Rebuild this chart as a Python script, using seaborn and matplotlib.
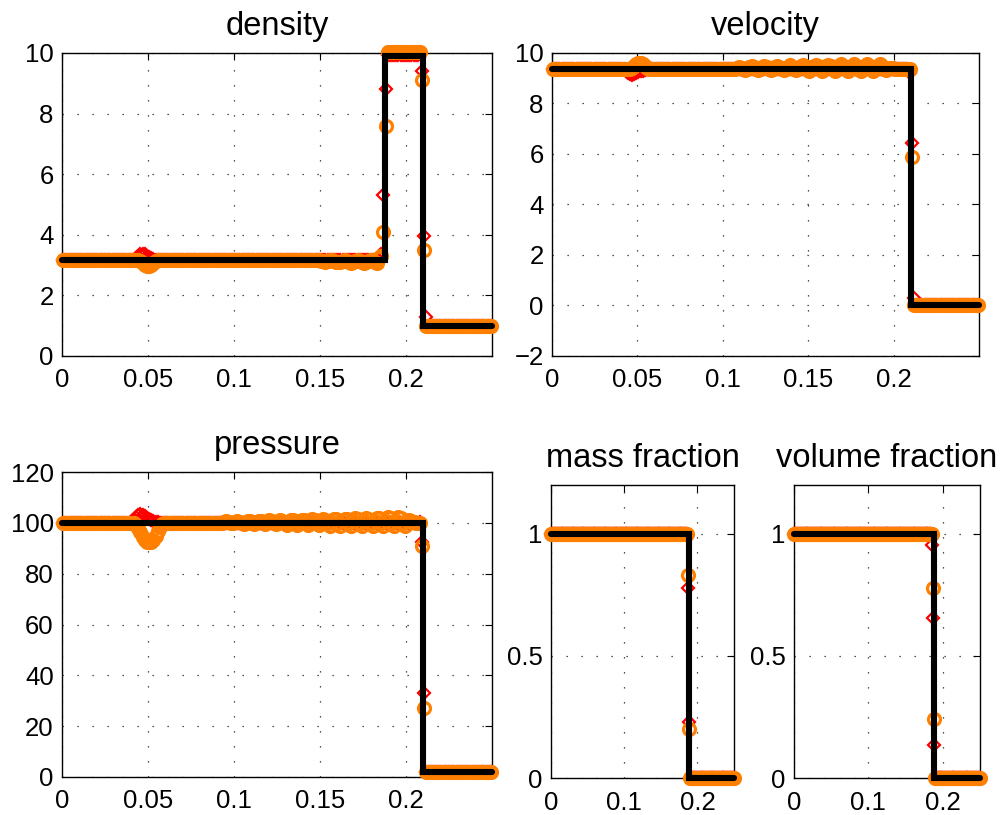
import numpy as np
import pandas as pd
import matplotlib
matplotlib.use("Agg")
import matplotlib.pyplot as plt
import seaborn as sns

# ---------------------------------------------------------------------------
# 1-D two-material shock tube at the output time: two numerical solutions
# (scheme A = red diamonds, scheme B = orange circles) on a 200-cell mesh,
# compared with the exact solution (black step profile).
# ---------------------------------------------------------------------------
N_CELLS = 200
X_LEN = 0.25
x_cells = (np.arange(N_CELLS) + 0.5) * X_LEN / N_CELLS


def runs(*parts):
    """Assemble a cell profile from (value, count) runs and explicit value lists."""
    out = []
    for p in parts:
        if isinstance(p, tuple):
            out.extend([p[0]] * p[1])
        else:
            out.extend(p)
    return np.asarray(out, dtype=float)


# ---- density -------------------------------------------------------------
rho_a_bump = [3.22, 3.30, 3.36, 3.38, 3.35, 3.30, 3.26, 3.22, 3.20, 3.18]
rho_a_contact = [3.38, 5.30, 8.80]
rho_a_shock = [9.40, 3.95, 1.30]
rho_a = runs((3.17, 34), rho_a_bump, (3.17, 104), rho_a_contact,
             (9.95, 15), [10.0], rho_a_shock, (1.0, 30))

rho_b_dip = [3.12, 3.06, 3.00, 2.97, 2.97, 3.00, 3.06, 3.12]
rho_b_wiggle = [3.17, 3.15, 3.12, 3.10, 3.12, 3.16, 3.18, 3.15, 3.11, 3.09,
                3.11, 3.15, 3.18, 3.15, 3.10, 3.08, 3.10, 3.14, 3.18, 3.15,
                3.10, 3.07, 3.09, 3.13, 3.17, 3.14, 3.09, 3.07]
rho_b_contact = [3.25, 3.30, 4.10, 7.60]
rho_b_shock = [9.10, 3.50]
rho_b = runs((3.17, 36), rho_b_dip, (3.17, 75), rho_b_wiggle, rho_b_contact,
             (10.03, 16), rho_b_shock, (1.0, 31))

# ---- velocity ------------------------------------------------------------
u_a_dip = [9.30, 9.22, 9.15, 9.12, 9.15, 9.20, 9.25, 9.28, 9.30, 9.32]
u_a_shock = [9.20, 6.45, 0.30]
u_a = runs((9.35, 34), u_a_dip, (9.35, 123), u_a_shock, (0.0, 30))

u_b_bump = [9.40, 9.48, 9.55, 9.60, 9.60, 9.55, 9.48, 9.40]
u_b_wiggle = [9.36, 9.42, 9.46, 9.42, 9.36, 9.33, 9.38, 9.44, 9.48, 9.43,
              9.36, 9.32, 9.38, 9.45, 9.49, 9.44, 9.36, 9.32, 9.38, 9.46,
              9.50, 9.45, 9.36, 9.31, 9.38, 9.46, 9.51, 9.46, 9.36, 9.31,
              9.39, 9.47, 9.52, 9.47, 9.36, 9.30, 9.39, 9.48, 9.53, 9.47,
              9.36, 9.30, 9.39, 9.48, 9.54, 9.48, 9.36, 9.29, 9.40, 9.49,
              9.55, 9.49, 9.36, 9.29, 9.40, 9.50, 9.55, 9.49, 9.36, 9.29,
              9.40, 9.50, 9.56, 9.50, 9.36, 9.30, 9.40, 9.50, 9.55, 9.48,
              9.38, 9.33, 9.36, 9.40, 9.42, 9.38, 9.36, 9.35, 9.35, 9.35,
              9.36, 9.35]
u_b_shock = [9.35, 5.90]
u_b = runs((9.35, 37), u_b_bump, (9.35, 40), u_b_wiggle, u_b_shock, (0.0, 31))

# ---- pressure ------------------------------------------------------------
p_a_bump = [100.8, 101.6, 102.4, 103.0, 103.4, 103.2, 102.6, 102.0, 101.5,
            101.1, 100.8, 100.5, 100.3]
p_a_shock = [100.5, 92.6, 33.0]
p_a = runs((100.0, 32), p_a_bump, (100.0, 121), p_a_shock, (2.0, 31))

p_b_dip = [99.0, 97.8, 96.2, 94.6, 93.4, 92.6, 92.3, 92.6, 93.4, 94.8,
           96.6, 98.4, 99.5]
p_b_wiggle = [100.3, 100.6, 100.4, 100.0, 99.8, 100.2, 100.7, 100.5, 100.0, 99.7,
              100.2, 100.8, 100.6, 100.0, 99.6, 100.2, 100.9, 100.7, 100.0, 99.5,
              100.3, 101.0, 100.8, 100.0, 99.4,
              100.3, 101.1, 100.9, 100.0, 99.3, 100.3, 101.2, 101.0, 100.0, 99.2,
              100.4, 101.3, 101.1, 100.0, 99.1, 100.4, 101.4, 101.2, 100.0, 99.0,
              100.5, 101.5, 101.3, 100.0, 98.9,
              100.5, 101.6, 101.4, 100.0, 98.8, 100.6, 101.7, 101.5, 100.0, 98.8,
              100.6, 101.8, 101.6, 100.0, 98.7, 100.7, 101.9, 101.7, 100.0, 98.7,
              100.7, 102.0, 101.8, 100.0, 98.6,
              100.8, 102.1, 101.9, 100.0, 98.6, 100.8, 102.2, 102.0, 100.0, 98.8,
              100.6, 101.2, 100.8, 100.2, 99.8, 100.0]
p_b_shock = [100.0, 90.7, 27.3]
p_b = runs((100.0, 34), p_b_dip, (100.0, 28), p_b_wiggle, p_b_shock, (2.0, 31))

# ---- mass and volume fraction -------------------------------------------
y_a = runs((1.0, 149), [0.78, 0.23], (0.0, 49))
y_b = runs((1.0, 149), [0.83, 0.20], (0.0, 49))
z_a = runs((1.0, 148), [0.955, 0.654, 0.135], (0.0, 49))
z_b = runs((1.0, 149), [0.78, 0.24], (0.0, 49))

# ---- exact solution: piecewise-constant states between the waves --------
exact_breaks = [0.0, 0.188, 0.21, 0.25]
rho_exact = [3.17, 9.9, 1.0, 1.0]
u_exact = [9.35, 9.35, 0.0, 0.0]
p_exact = [100.0, 100.0, 2.0, 2.0]
y_exact = [1.0, 0.0, 0.0, 0.0]
z_exact = [1.0, 0.0, 0.0, 0.0]

# ---- axis ticks ----------------------------------------------------------
wide_xticks = [0, 0.05, 0.1, 0.15, 0.2]
wide_xticklabels = ["0", "0.05", "0.1", "0.15", "0.2"]
narrow_xticks = [0, 0.1, 0.2]
narrow_xticklabels = ["0", "0.1", "0.2"]
rho_yticks = [0, 2, 4, 6, 8, 10]
u_yticks = [-2, 0, 2, 4, 6, 8, 10]
p_yticks = [0, 20, 40, 60, 80, 100, 120]
frac_yticks = [0, 0.5, 1]
frac_yticklabels = ["0", "0.5", "1"]

# ---------------------------------------------------------------------------
sns.set_theme(style="white")
plt.rcParams["font.family"] = ["Liberation Sans", "DejaVu Sans"]
plt.rcParams["axes.unicode_minus"] = True

RED = "#ff0000"
ORANGE = "#ff8000"
W, H = 1001, 815
fig = plt.figure(figsize=(W / 100, H / 100), dpi=100)
fig.patch.set_facecolor("white")


def box(left, top, right, bottom):
    return [left / W, 1 - bottom / H, (right - left) / W, (bottom - top) / H]


def panel(rect, a, b, exact, title, ylim, yticks, xticks, xticklabels,
          yticklabels=None):
    ax = fig.add_axes(box(*rect))
    df = pd.DataFrame({"x": x_cells, "a": a, "b": b})
    sns.lineplot(data=df, x="x", y="a", ax=ax, estimator=None, sort=False,
                 color=RED, linestyle="none", marker="D", markersize=6.3,
                 markerfacecolor="none", mec=RED, mew=1.6,
                 clip_on=False, zorder=3)
    sns.lineplot(data=df, x="x", y="b", ax=ax, estimator=None, sort=False,
                 color=ORANGE, linestyle="none", marker="o", markersize=8.6,
                 markerfacecolor="none", mec=ORANGE, mew=2.3,
                 clip_on=False, zorder=4)
    sns.lineplot(x=exact_breaks, y=exact, ax=ax, estimator=None, sort=False,
                 color="black", lw=4.4, drawstyle="steps-post",
                 solid_joinstyle="miter", clip_on=False, zorder=5)
    ax.set_xlim(0, X_LEN)
    ax.set_ylim(*ylim)
    ax.set_xticks(xticks)
    ax.set_xticklabels(xticklabels)
    ax.set_yticks(yticks)
    if yticklabels is not None:
        ax.set_yticklabels(yticklabels)
    ax.set_xlabel("")
    ax.set_ylabel("")
    ax.set_axisbelow(True)
    ax.grid(True, linestyle=(0, (1, 11)), color="#202020", lw=0.9)
    for s in ax.spines.values():
        s.set_visible(True)
        s.set_color("black")
        s.set_linewidth(1.0)
    ax.tick_params(direction="in", length=5, width=0.8, top=True, right=True,
                   labelsize=18.5, colors="black")
    ax.tick_params(axis="x", pad=9)
    ax.tick_params(axis="y", pad=6)
    ax.set_title(title, fontsize=23.5, pad=13, color="black")
    return ax


panel((62, 53, 492, 356), rho_a, rho_b, rho_exact, "density",
      (0, 10), rho_yticks, wide_xticks, wide_xticklabels)
panel((552, 53, 979, 356), u_a, u_b, u_exact, "velocity",
      (-2, 10), u_yticks, wide_xticks, wide_xticklabels)
panel((62, 472, 492, 777), p_a, p_b, p_exact, "pressure",
      (0, 120), p_yticks, wide_xticks, wide_xticklabels)
panel((551, 485, 734, 778), y_a, y_b, y_exact, "mass fraction",
      (0, 1.2), frac_yticks, narrow_xticks, narrow_xticklabels, frac_yticklabels)
panel((794, 485, 980, 778), z_a, z_b, z_exact, "volume fraction",
      (0, 1.2), frac_yticks, narrow_xticks, narrow_xticklabels, frac_yticklabels)

fig.savefig("out.png", dpi=100, facecolor="white")
